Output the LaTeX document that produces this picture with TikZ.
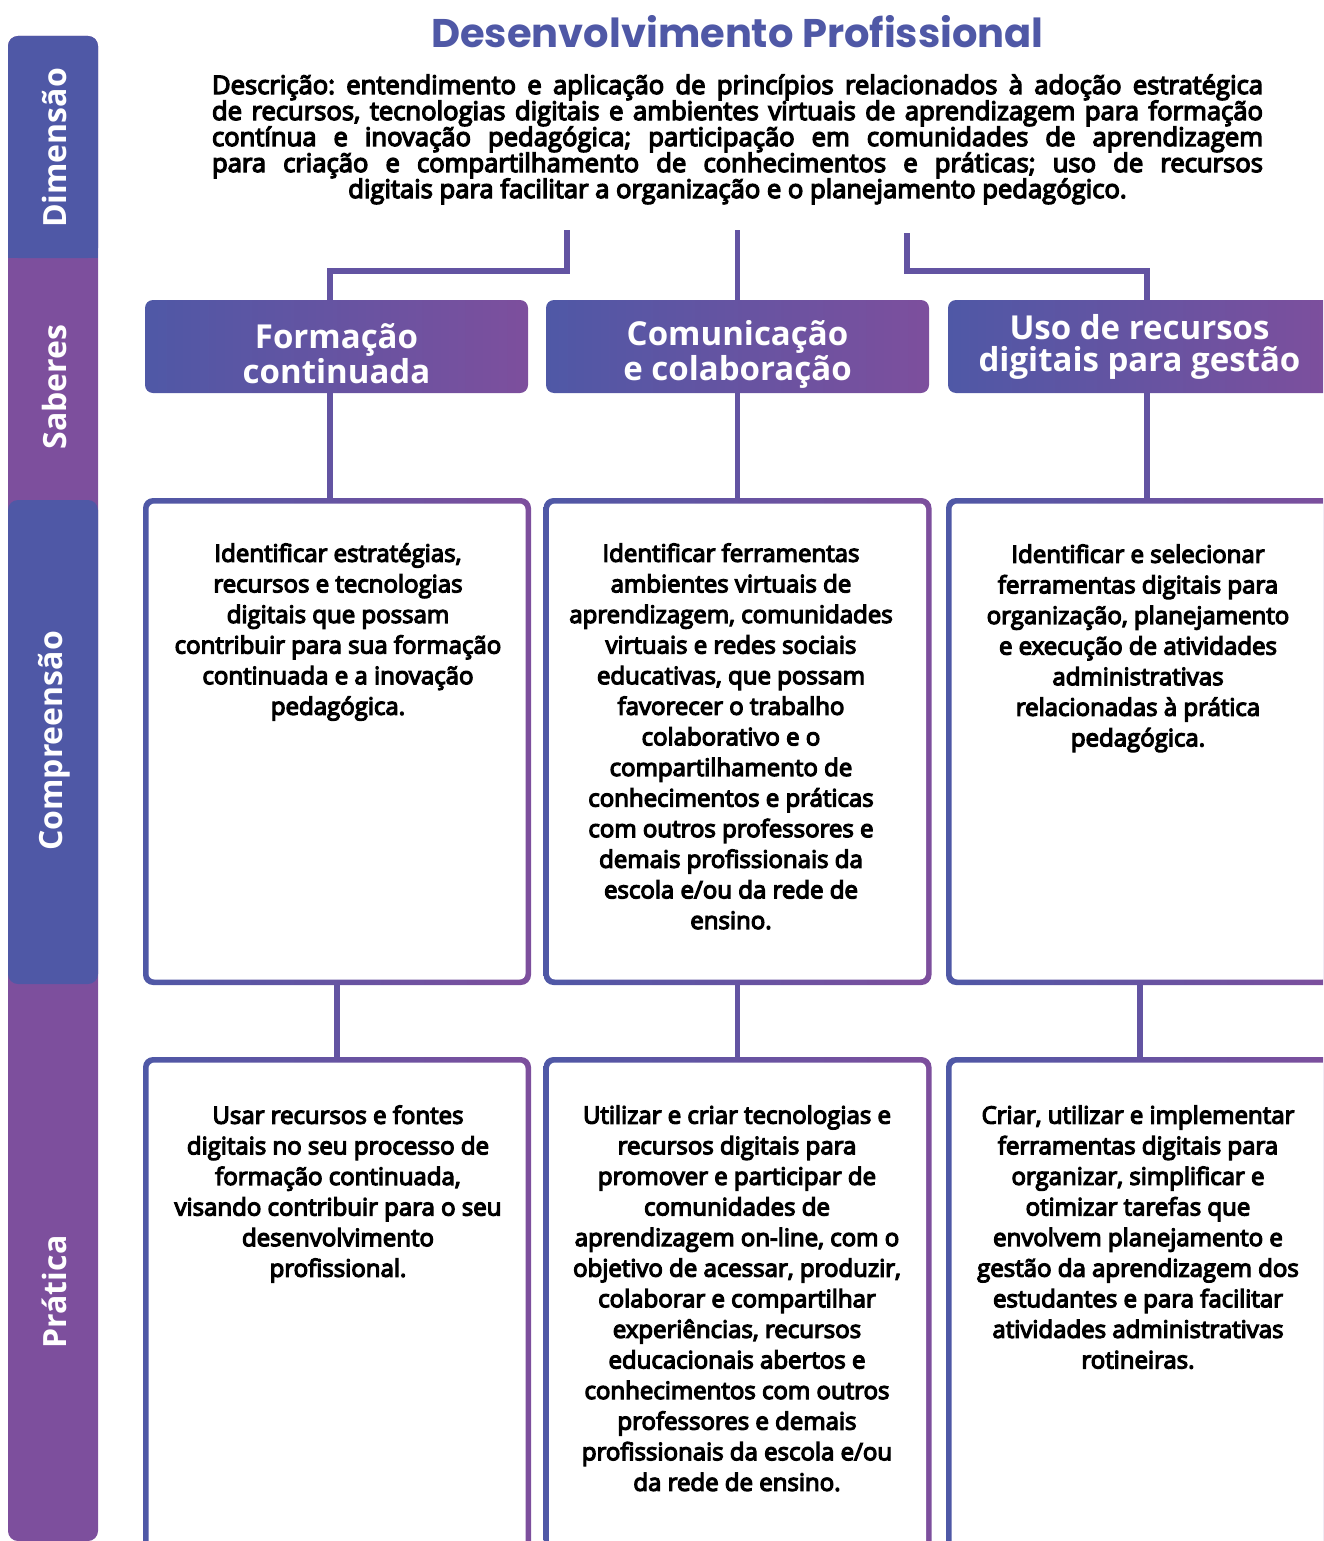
\documentclass[tikz,border=0pt]{standalone}
\usepackage{fontspec}
\setmainfont{Open Sans}
\newfontfamily\semi[FakeBold=5]{Open Sans}
\newfontfamily\titlefont{Poppins}
\usetikzlibrary{calc, positioning}
\definecolor{dimblue}{HTML}{4F58A6}
\definecolor{dimpurple}{HTML}{7D4F9D}
\definecolor{linkcol}{HTML}{6354A2}
\frenchspacing

\begin{document}
\begin{tikzpicture}[x=0.5pt,y=-0.5pt,
  every node/.style={inner sep=0pt},
  sidelabel/.style={rotate=90,text=white,font=\bfseries\fontsize{16}{16}\selectfont},
  headbox/.style={rounded corners=4pt,left color=dimblue,right color=dimpurple,
    minimum width=191.5pt,minimum height=46.5pt},
  headtext/.style={text=white,align=center,font=\bfseries\fontsize{16.5}{16}\selectfont},
  framebox/.style={rounded corners=5pt,left color=dimblue,right color=dimpurple,
    minimum width=194pt,
    path picture={\fill[white,rounded corners=3pt]
      ([shift={(2.75pt,2.75pt)}]path picture bounding box.south west) rectangle
      ([shift={(-2.75pt,-2.75pt)}]path picture bounding box.north east);}},
  boxtext/.style={anchor=north,align=center,font=\semi\fontsize{12}{15.3}\selectfont},
  link/.style={draw=linkcol,line width=2.75pt}]
\useasboundingbox (0,0) rectangle (1323,1541);
\clip (0,0) rectangle (1323,1541);

\fill[dimpurple,rounded corners=5pt] (8,36) rectangle (98,1541);
\fill[dimblue,rounded corners=5pt] (8,36) rectangle (98,258);
\fill[dimblue] (8,230) rectangle (98,258);
\fill[dimblue,rounded corners=5pt] (8,500) rectangle (98,984);
\node[sidelabel] (sdim) at (54,148) {Dimensão};
\node[sidelabel] (ssab) at (54,387) {Saberes};
\node[sidelabel] (scom) at (54,741) {Compreensão};
\node[sidelabel] (spra) at (54,1292) {Prática};

\node[text=dimblue,font=\titlefont\bfseries\fontsize{20}{20}\selectfont] (title) at (737.5,32) {Desenvolvimento Profissional};
\node[anchor=north,text width=525.5pt,align=justify,font=\semi\fontsize{12.8}{13}\selectfont] (desc) at (737.5,74)
  {{\parfillskip=0pt Descrição: entendimento e aplicação de princípios relacionados à adoção estratégica\linebreak
  de recursos, tecnologias digitais e ambientes virtuais de aprendizagem para formação\linebreak
  contínua e inovação pedagógica; participação em comunidades de aprendizagem\linebreak
  para criação e compartilhamento de conhecimentos e práticas; uso de recursos\par}
  \centering digitais para facilitar a organização e o planejamento pedagógico.\par};

\coordinate (d1) at (567,230);
\coordinate (d2) at (737.5,230);
\coordinate (d3) at (907,233);

\node[headbox] (h1) at (336.5,346.5) {};
\node[headbox] (h2) at (737.5,346.5) {};
\node[headbox] (h3) at (1139.5,346.5) {};
\node[headtext] (ht1) at ([yshift=-3.5pt]h1) {Formação\\continuada};
\node[headtext] (ht2) at ([yshift=-4pt]h2) {Comunicação\\e colaboração};
\node[headtext] (ht3) at (h3) {Uso de recursos\\digitais para gestão};

\node[framebox,minimum height=243.5pt] (m1) at (337,741.5) {};
\node[framebox,minimum height=243.5pt] (m2) at (737.5,741.5) {};
\node[framebox,minimum height=243.5pt] (m3) at (1140,741.5) {};
\node[framebox,minimum height=261.5pt] (p1) at (337,1318.5) {};
\node[framebox,minimum height=261.5pt] (p2) at (737.5,1318.5) {};
\node[framebox,minimum height=261.5pt] (p3) at (1140,1318.5) {};

\draw[link] (d1) -- ++(0,41) -| ([xshift=-3.25pt]h1.north);
\draw[link] (d2) -- (h2.north);
\draw[link] (d3) -- ++(0,38) -| ([xshift=3.75pt]h3.north);
\draw[link] ([xshift=-3.25pt]h1.south) -- ([xshift=-3.25pt]h1.south |- m1.north);
\draw[link] (h2.south) -- (m2.north);
\draw[link] ([xshift=3.75pt]h3.south) -- ([xshift=3.75pt]h3.south |- m3.north);
\draw[link] (m1.south) -- (p1.north);
\draw[link] (m2.south) -- (p2.north);
\draw[link] (m3.south) -- (p3.north);

\node[boxtext] (t1) at (338,543) {Identificar estratégias,\\recursos e tecnologias\\digitais que possam\\contribuir para sua formação\\continuada e a inovação\\pedagógica.};
\node[boxtext] (t2) at (731,543) {Identificar ferramentas\\ambientes virtuais de\\aprendizagem, comunidades\\virtuais e redes sociais\\educativas, que possam\\favorecer o trabalho\\colaborativo e o\\compartilhamento de\\conhecimentos e práticas\\com outros professores e\\demais profissionais da\\escola e/ou da rede de\\ensino.};
\node[boxtext] (t3) at (1138,544) {Identificar e selecionar\\ferramentas digitais para\\organização, planejamento\\e execução de atividades\\administrativas\\relacionadas à prática\\pedagógica.};
\node[boxtext] (u1) at (338,1105) {Usar recursos e fontes\\digitais no seu processo de\\formação continuada,\\visando contribuir para o seu\\desenvolvimento\\profissional.};
\node[boxtext] (u2) at (737,1105) {Utilizar e criar tecnologias e\\recursos digitais para\\promover e participar de\\comunidades de\\aprendizagem on-line, com o\\objetivo de acessar, produzir,\\colaborar e compartilhar\\experiências, recursos\\educacionais abertos e\\conhecimentos com outros\\professores e demais\\profissionais da escola e/ou\\da rede de ensino.};
\node[boxtext] (u3) at (1138,1105) {Criar, utilizar e implementar\\ferramentas digitais para\\organizar, simplificar e\\otimizar tarefas que\\envolvem planejamento e\\gestão da aprendizagem dos\\estudantes e para facilitar\\atividades administrativas\\rotineiras.};
\end{tikzpicture}
\end{document}
